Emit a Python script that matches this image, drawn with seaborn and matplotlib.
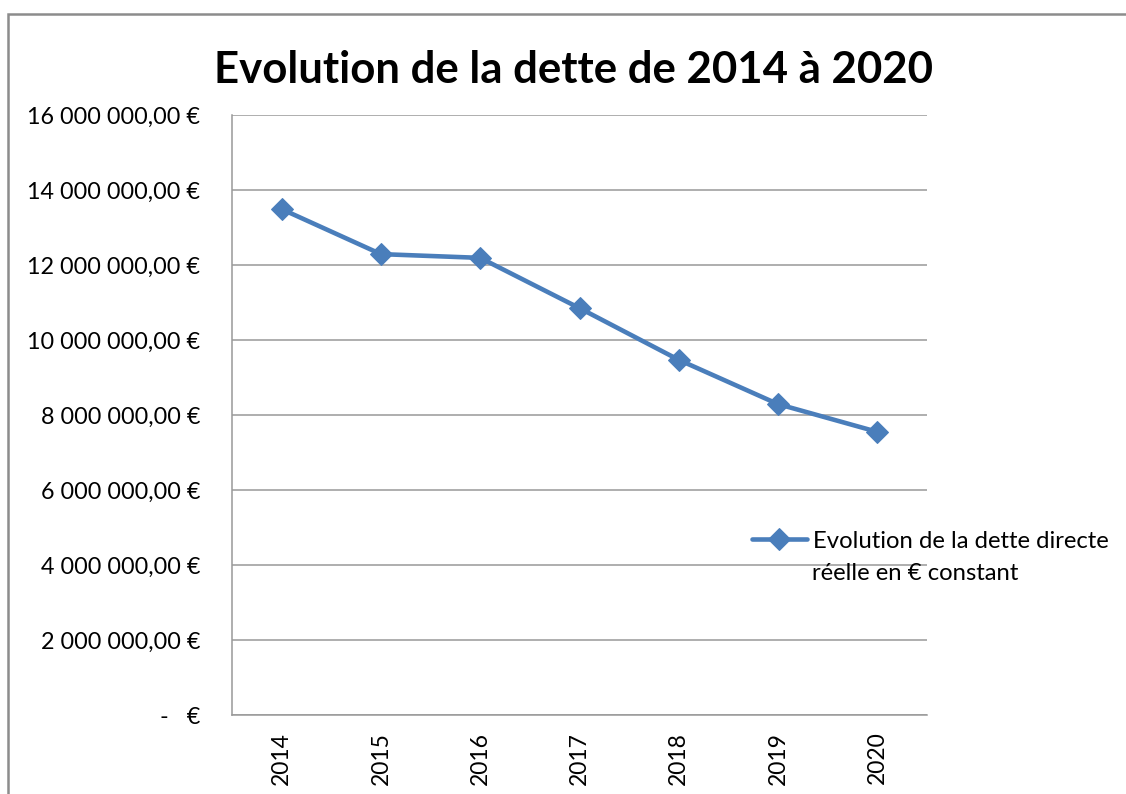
import matplotlib
matplotlib.use("Agg")
import matplotlib.pyplot as plt
import matplotlib.ticker as mticker
from matplotlib.patches import Rectangle
import seaborn as sns
import pandas as pd

# Données
annees = ["2014", "2015", "2016", "2017", "2018", "2019", "2020"]
dette = [13490000, 12290000, 12190000, 10850000, 9470000, 8290000, 7550000]
y_ticks = [0, 2e6, 4e6, 6e6, 8e6, 10e6, 12e6, 14e6, 16e6]

titre = "Evolution de la dette de 2014 à 2020"
legende_1 = "Evolution de la dette directe"
legende_2 = "réelle en € constant"

sns.set_style("white")
plt.rcParams["font.family"] = ["Lato", "DejaVu Sans"]
plt.rcParams["text.color"] = "black"
plt.rcParams["xtick.labelcolor"] = "black"
plt.rcParams["ytick.labelcolor"] = "black"

df = pd.DataFrame({"annee": annees, "dette": dette})

fig = plt.figure(figsize=(11.26, 7.94), dpi=100)
ax = fig.add_axes([232 / 1126, 1 - 715 / 794, 695 / 1126, 600 / 794])

bleu = "#4A7EBB"
gris = "#999999"

sns.lineplot(data=df, x="annee", y="dette", ax=ax, color=bleu, linewidth=3.3,
             marker="D", markersize=11, markeredgecolor=bleu, label=legende_1,
             sort=False)


def euro(v, pos):
    if v == 0:
        return "-   €"
    s = f"{v:,.2f}".replace(",", " ").replace(".", ",")
    return s + " €"


ax.set_ylim(0, 16e6)
ax.set_xlim(-0.5, len(annees) - 0.5)
ax.set_yticks(y_ticks)
ax.yaxis.set_major_formatter(mticker.FuncFormatter(euro))
ax.grid(axis="y", color=gris, linewidth=1.1)
ax.set_axisbelow(True)

# ticks x entre les catégories
ax.set_xticks(range(len(annees)))
ax.set_xticklabels(annees, rotation=90)
ax.set_xticks([i - 0.5 for i in range(len(annees) + 1)], minor=True)
ax.tick_params(axis="x", which="major", length=0, pad=12, labelsize=16.5, labelcolor="black")
ax.tick_params(axis="x", which="minor", length=7, width=1.1, color=gris, direction="out")
ax.tick_params(axis="y", length=7, width=1.1, color=gris, direction="out", pad=16,
               labelsize=16.8, labelcolor="black")
ax.set_xlabel("")
ax.set_ylabel("")

for s in ["top", "right"]:
    ax.spines[s].set_visible(False)
for s in ["left", "bottom"]:
    ax.spines[s].set_color(gris)
    ax.spines[s].set_linewidth(1.1)

# titre
fig.text(573 / 1126, 1 - 83 / 794, titre, ha="center", va="baseline",
         fontsize=31.5, fontweight="bold", color="black")

# légende
leg = ax.legend(loc="center left", bbox_to_anchor=(752 / 1126, 1 - 541 / 794),
                bbox_transform=fig.transFigure, frameon=False, fontsize=17.2,
                handlelength=2.3, handletextpad=0.25, borderpad=0, borderaxespad=0)
for t in leg.get_texts():
    t.set_color("black")
fig.text(812 / 1126, 1 - 574 / 794, legende_2, ha="left", va="center",
         fontsize=17.2, color="black")

# cadre extérieur
fig.patches.append(Rectangle((8 / 1126, -0.1), 1.2, 1 - 14 / 794 + 0.1,
                             transform=fig.transFigure, fill=False,
                             edgecolor="#8c8c8c", linewidth=1.8))

fig.savefig("out.png", dpi=100)
